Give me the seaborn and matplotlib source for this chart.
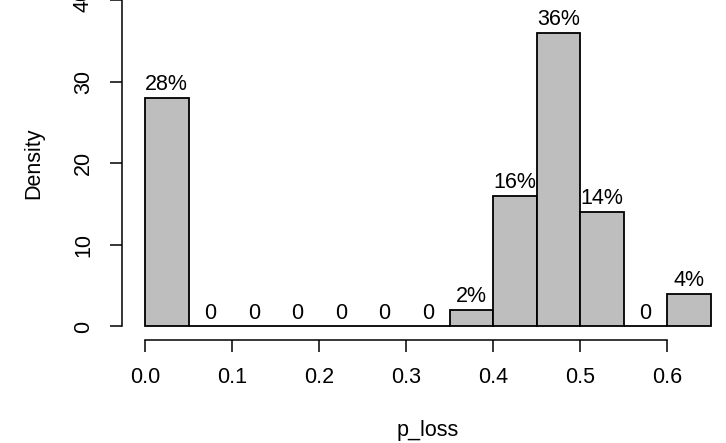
import numpy as np
import matplotlib
matplotlib.use("Agg")
import matplotlib.pyplot as plt
import seaborn as sns

# Histogram of p_loss (bin edges and density per bin)
bin_edges = [0.00, 0.05, 0.10, 0.15, 0.20, 0.25, 0.30, 0.35, 0.40, 0.45, 0.50, 0.55, 0.60, 0.65]
density = [28, 0, 0, 0, 0, 0, 0, 2, 16, 36, 14, 0, 4]
bar_labels = ["28%", "0", "0", "0", "0", "0", "0", "2%", "16%", "36%", "14%", "0", "4%"]
x_ticks = [0.0, 0.1, 0.2, 0.3, 0.4, 0.5, 0.6]
y_ticks = [0, 10, 20, 30, 40]

sns.set_style("white")
plt.rcParams['font.family'] = ['Liberation Sans', 'DejaVu Sans']
plt.rcParams['text.color'] = 'black'
plt.rcParams['axes.labelcolor'] = 'black'
plt.rcParams['xtick.color'] = 'black'
plt.rcParams['ytick.color'] = 'black'

fs = 15.5

fig = plt.figure(figsize=(7.26, 4.43), dpi=100)
ax = fig.add_axes([0.1686, 0.2336, 0.8413, 0.7955])

centers = [(a + b) / 2 for a, b in zip(bin_edges[:-1], bin_edges[1:])]
sns.histplot(x=centers, weights=density, bins=bin_edges, stat='count',
             color='#BEBEBE', alpha=1.0, edgecolor='black', linewidth=1.3, ax=ax)

# labels above bars
for c, d, lab in zip(centers, density, bar_labels):
    ax.annotate(lab, (c, d), xytext=(0, 2), textcoords='offset points',
                ha='center', va='bottom', fontsize=fs)

ax.set_xlim(-0.026, 0.676)
ax.set_ylim(-1.6, 41.6)

ax.set_xticks(x_ticks)
ax.set_xticklabels([f"{t:.1f}" for t in x_ticks])
ax.set_yticks(y_ticks)
ax.set_yticklabels([str(t) for t in y_ticks], rotation=90, va='center')

for s in ['top', 'right']:
    ax.spines[s].set_visible(False)
for s in ['left', 'bottom']:
    ax.spines[s].set_color('black')
    ax.spines[s].set_linewidth(1.1)
ax.spines['bottom'].set_bounds(0, 0.6)
ax.spines['left'].set_bounds(0, 40)

ax.tick_params(axis='both', direction='out', length=8.5, width=1.1, color='black',
               bottom=True, left=True, labelsize=fs, labelcolor='black')
ax.tick_params(axis='x', pad=11)
ax.tick_params(axis='y', pad=12)

ax.set_xlabel('p_loss', fontsize=fs, labelpad=23)
ax.set_ylabel('Density', fontsize=fs, labelpad=21)
ax.grid(False)

fig.savefig('out.png', dpi=100)
